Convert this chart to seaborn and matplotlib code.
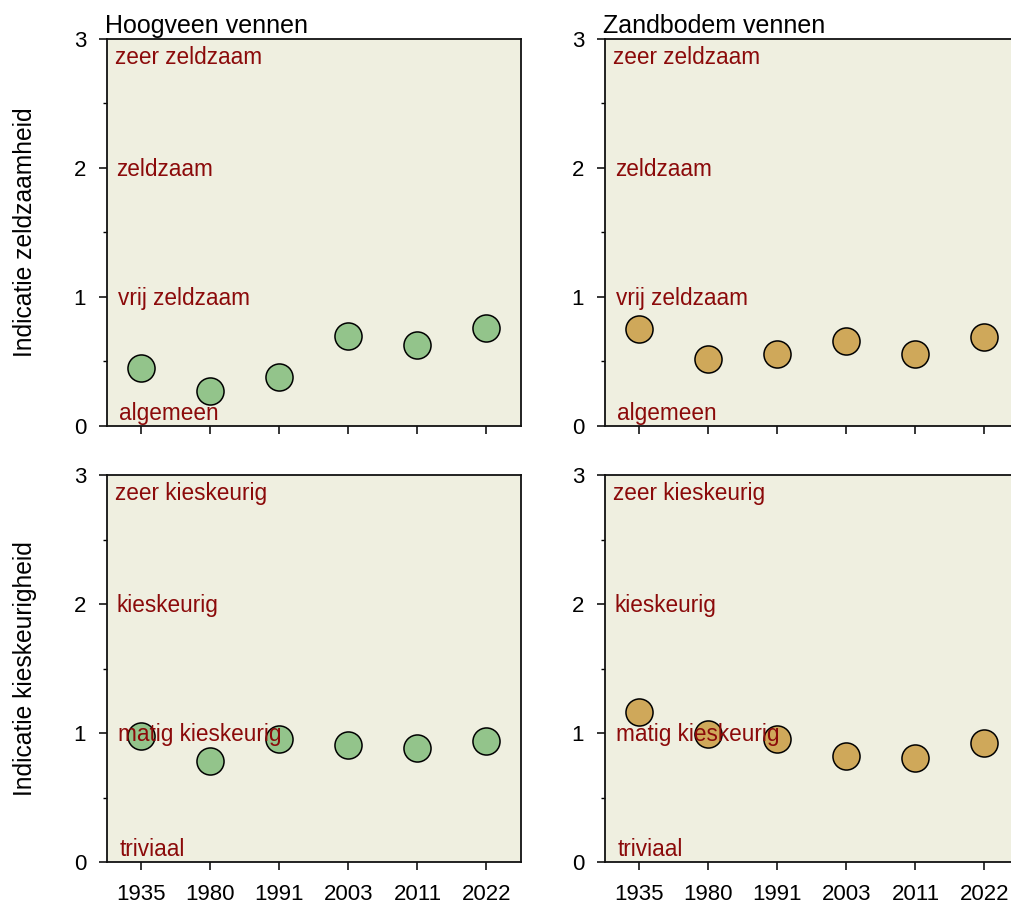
import pandas as pd
import matplotlib
matplotlib.use("Agg")
import matplotlib.pyplot as plt
import seaborn as sns
from matplotlib.ticker import MultipleLocator

# Data
years = ["1935", "1980", "1991", "2003", "2011", "2022"]
hoogveen_zeldzaam = [0.45, 0.27, 0.38, 0.70, 0.63, 0.76]
zandbodem_zeldzaam = [0.75, 0.52, 0.56, 0.66, 0.56, 0.69]
hoogveen_kieskeurig = [0.98, 0.78, 0.95, 0.91, 0.88, 0.94]
zandbodem_kieskeurig = [1.16, 0.99, 0.95, 0.82, 0.81, 0.92]

titles = ["Hoogveen vennen", "Zandbodem vennen"]
ylabels = ["Indicatie zeldzaamheid", "Indicatie kieskeurigheid"]
zeldzaam_labels = ["algemeen", "vrij zeldzaam", "zeldzaam", "zeer zeldzaam"]
kieskeurig_labels = ["triviaal", "matig kieskeurig", "kieskeurig", "zeer kieskeurig"]
label_y = [0.1, 0.99, 1.99, 2.86]
label_x = [-0.32, -0.34, -0.36, -0.39]

green = "#93c48b"
gold = "#cfa85a"
bg = "#efefe0"
red = "#8b0a0a"

sns.set_style("ticks")
plt.rcParams["font.family"] = ["Liberation Sans", "DejaVu Sans"]

fig = plt.figure(figsize=(10.11, 9.09), dpi=100)
pos = {
    (0, 0): [0.1058, 0.5314, 0.4095, 0.4257],
    (0, 1): [0.5984, 0.5314, 0.4095, 0.4257],
    (1, 0): [0.1058, 0.0517, 0.4095, 0.4257],
    (1, 1): [0.5984, 0.0517, 0.4095, 0.4257],
}
series = {
    (0, 0): hoogveen_zeldzaam,
    (0, 1): zandbodem_zeldzaam,
    (1, 0): hoogveen_kieskeurig,
    (1, 1): zandbodem_kieskeurig,
}

for (r, c), vals in series.items():
    ax = fig.add_axes(pos[(r, c)])
    ax.set_facecolor(bg)
    df = pd.DataFrame({"jaar": years, "waarde": vals})
    color = green if c == 0 else gold
    sns.stripplot(data=df, x="jaar", y="waarde", jitter=False, color=color,
                  size=19.5, linewidth=1.1, edgecolor="black", ax=ax, zorder=3)
    ax.set_xlim(-0.5, 5.5)
    ax.set_ylim(0, 3)
    ax.yaxis.set_major_locator(MultipleLocator(1))
    ax.yaxis.set_minor_locator(MultipleLocator(0.5))
    ax.tick_params(axis="both", which="major", length=6, width=1.1, labelsize=16,
                   color="black", labelcolor="black")
    ax.tick_params(axis="y", which="major", pad=9)
    ax.tick_params(axis="y", which="minor", length=3, width=1, color="black")
    for sp in ax.spines.values():
        sp.set_linewidth(1.3)
        sp.set_color("#111111")
    ax.set_xlabel("")
    if r == 0:
        ax.set_xticklabels([])
        ax.set_title(titles[c], loc="left", fontsize=18, pad=4, x=-0.005, color="black")
        labels = zeldzaam_labels
    else:
        ax.tick_params(axis="x", pad=10)
        labels = kieskeurig_labels
    # category labels sit on top of the markers
    for txt, xv, yv in zip(labels, label_x, label_y):
        ax.text(xv, yv, txt, color=red, fontsize=16.3, ha="left", va="center", zorder=5)
    if c == 0:
        ax.set_ylabel(ylabels[r], fontsize=17.7, color="black")
        ax.yaxis.set_label_coords(-0.168, 0.5)
    else:
        ax.set_ylabel("")

plt.savefig("out.png", dpi=100)
